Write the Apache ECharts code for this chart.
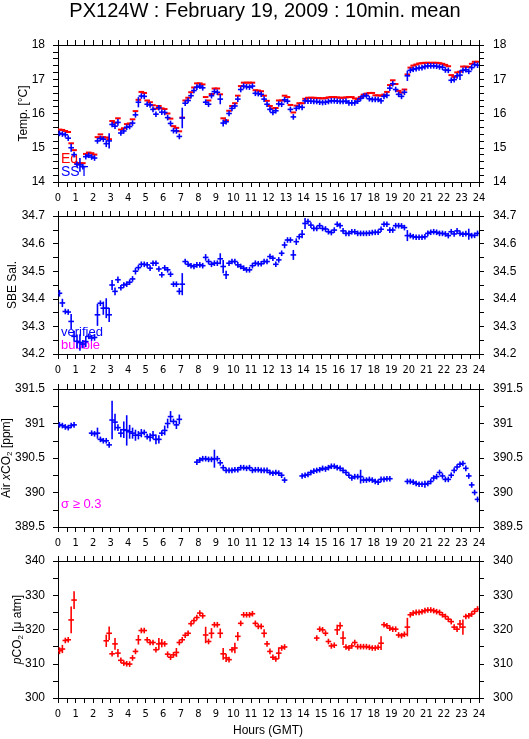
<!DOCTYPE html>
<html><head><meta charset="utf-8">
<script src="https://cdn.jsdelivr.net/npm/echarts@6/dist/echarts.min.js"></script>
<style>html,body{margin:0;padding:0;background:#fff}#c{width:529px;height:739px}</style>
</head><body><div id="c"></div>
<script>
// ---------- DATA (10-minute means, index i -> hour (i+0.5)/6) ----------
const titleText = 'PX124W : February 19, 2009 : 10min. mean';
const hourAxis = [0, 24, 1];          // min, max, interval
const tempAxis = [14, 18, 1];
const salAxis = [34.2, 34.7, 0.1];
const co2Axis = [389.5, 391.5, 0.5];
const pco2Axis = [300, 340, 10];

const sst = [
15.42,15.40,15.38,15.28,15.00,14.80,
14.52,14.50,14.45,14.74,14.78,14.73,
14.70,15.20,15.27,15.25,15.12,15.20,
15.68,15.63,15.74,15.43,15.49,15.60,
15.62,15.72,15.96,16.33,16.51,16.50,
16.27,16.25,16.12,15.98,16.17,16.04,
16.03,15.88,15.71,15.50,15.49,15.33,
15.87,16.30,16.38,16.52,16.67,16.77,
16.80,16.75,16.33,16.27,16.52,16.64,
16.62,16.42,15.72,15.76,16.00,16.15,
16.22,16.42,16.70,16.80,16.78,16.77,
16.80,16.59,16.58,16.56,16.42,16.27,
16.12,16.03,16.08,16.28,16.27,16.40,
16.36,16.12,15.90,16.15,16.20,16.18,
16.37,16.36,16.36,16.35,16.35,16.33,
16.32,16.33,16.35,16.37,16.37,16.36,
16.35,16.35,16.36,16.31,16.31,16.31,
16.36,16.44,16.51,16.52,16.43,16.41,
16.41,16.41,16.37,16.50,16.53,16.74,
16.87,16.70,16.56,16.50,16.62,17.10,
17.26,17.29,17.31,17.33,17.34,17.37,
17.39,17.39,17.39,17.38,17.36,17.35,
17.27,17.26,16.97,16.99,17.10,17.12,
17.26,17.28,17.23,17.34,17.43,17.41
];
const sstErr = [[3,0.05],[4,0.12],[6,0.08],[7,0.2],[8,0.06],[12,0.06],[13,0.06],[16,0.1],[17,0.22],[20,0.1],[27,0.15],[33,0.06],[39,0.06],[42,0.3],[44,0.06],[50,0.08],[55,0.15],[56,0.1],[57,0.06],[61,0.07],[79,0.07],[80,0.08],[114,0.06],[115,0.06],[119,0.15],[134,0.07],[135,0.06],[137,0.14]];

const eq = [
15.53,15.52,15.49,15.46,15.13,14.93,
14.55,14.55,14.55,14.82,14.86,14.84,
14.80,15.31,15.39,15.31,15.30,15.25,
15.78,15.73,15.86,15.53,15.57,15.69,
15.71,15.83,16.07,16.40,16.63,16.60,
16.38,16.33,16.24,16.14,16.22,16.15,
16.13,16.00,15.85,15.63,15.58,15.48,
15.88,16.38,16.46,16.62,16.76,16.88,
16.88,16.85,16.48,16.38,16.57,16.73,
16.73,16.56,15.86,15.80,16.08,16.22,
16.30,16.52,16.80,16.90,16.90,16.90,
16.90,16.68,16.67,16.65,16.52,16.37,
16.22,16.15,16.16,16.38,16.38,16.52,
16.48,16.25,16.03,16.23,16.30,16.30,
16.43,16.46,16.46,16.46,16.45,16.45,
16.44,16.45,16.47,16.48,16.48,16.47,
16.46,16.46,16.47,16.48,16.48,16.44,
16.42,16.48,16.55,16.58,16.60,16.60,
16.53,16.53,16.52,16.55,16.63,16.83,
16.97,16.86,16.66,16.61,16.70,17.14,
17.34,17.40,17.43,17.46,17.47,17.48,
17.48,17.48,17.48,17.48,17.47,17.45,
17.42,17.38,17.12,17.07,17.20,17.22,
17.37,17.37,17.36,17.45,17.51,17.51
];

const sal = [
34.420,34.385,34.354,34.352,34.318,34.264,
34.246,34.242,34.236,34.245,34.264,34.258,
34.260,34.342,34.384,34.366,34.366,34.342,
34.450,34.427,34.469,34.440,34.450,34.453,
34.460,34.472,34.500,34.513,34.525,34.525,
34.523,34.511,34.529,34.529,34.508,34.487,
34.512,34.505,34.489,34.453,34.453,34.427,
34.453,34.535,34.525,34.520,34.517,34.523,
34.523,34.520,34.550,34.535,34.525,34.529,
34.529,34.545,34.517,34.487,34.529,34.535,
34.535,34.523,34.517,34.511,34.505,34.505,
34.520,34.529,34.527,34.527,34.535,34.535,
34.553,34.547,34.525,34.541,34.565,34.595,
34.613,34.613,34.559,34.607,34.625,34.634,
34.673,34.680,34.667,34.655,34.655,34.665,
34.655,34.653,34.643,34.640,34.649,34.670,
34.665,34.646,34.637,34.637,34.643,34.643,
34.637,34.637,34.637,34.637,34.638,34.640,
34.641,34.641,34.652,34.670,34.670,34.649,
34.649,34.665,34.665,34.664,34.658,34.629,
34.629,34.625,34.623,34.623,34.623,34.625,
34.637,34.641,34.643,34.641,34.637,34.637,
34.635,34.629,34.643,34.635,34.646,34.637,
34.634,34.636,34.634,34.629,34.630,34.637
];
const salErr = [[0,0.012],[1,0.015],[4,0.027],[5,0.02],[6,0.025],[7,0.03],[8,0.015],[9,0.02],[12,0.012],[13,0.04],[15,0.024],[16,0.036],[17,0.026],[18,0.018],[19,0.014],[20,0.012],[26,0.012],[41,0.012],[42,0.04],[50,0.012],[55,0.02],[56,0.024],[57,0.015],[77,0.012],[80,0.018],[81,0.012],[83,0.015],[84,0.02],[119,0.02],[120,0.01],[140,0.02]];

const co2 = [
390.98,390.97,390.95,390.94,390.97,390.98,
null,null,null,null,null,390.86,
390.85,390.86,390.77,390.75,390.75,390.69,
391.05,391.02,390.94,390.86,390.91,390.90,
390.88,390.86,390.83,390.83,390.86,390.87,
390.81,390.80,390.83,390.77,390.77,390.86,
390.90,391.00,391.10,391.03,390.98,391.06,
null,null,null,null,null,390.44,
390.47,390.49,390.49,390.48,390.48,390.49,
390.49,390.43,390.36,390.32,390.32,390.32,
390.33,390.33,390.36,390.36,390.35,390.36,
390.32,390.33,390.33,390.32,390.32,390.32,
390.29,390.28,390.29,390.28,390.25,390.18,
null,null,null,null,null,390.24,
390.25,390.26,390.29,390.31,390.32,390.33,
390.35,390.34,390.36,390.38,390.38,390.36,
390.35,390.32,390.29,390.25,390.21,390.23,
390.23,390.23,390.18,390.18,390.19,390.18,
390.16,390.15,390.19,390.19,390.20,390.20,
null,null,null,null,null,390.16,
390.16,390.15,390.13,390.12,390.12,390.12,
390.13,390.16,390.21,390.23,390.29,390.24,
390.19,390.19,390.25,390.32,390.37,390.41,
390.42,390.35,390.24,390.11,390.00,389.90
];
const co2Err = [[13,0.08],[14,0.04],[18,0.28],[19,0.12],[20,0.05],[21,0.06],[22,0.12],[23,0.22],[24,0.1],[25,0.08],[26,0.08],[27,0.06],[28,0.06],[31,0.06],[32,0.06],[33,0.07],[34,0.06],[36,0.07],[37,0.07],[38,0.08],[40,0.06],[41,0.07],[53,0.13],[103,0.1],[121,0.04],[125,0.05]];

const pco2 = [
313.8,314.3,316.8,317.0,322.8,328.6,
null,null,null,null,null,null,
null,null,null,null,316.7,318.9,
312.9,315.8,313.1,311.0,310.2,310.0,
309.9,311.7,313.6,317.0,319.7,319.7,
317.0,316.2,316.2,314.1,315.8,316.0,
315.8,312.8,311.9,312.6,313.3,316.2,
317.0,318.3,318.9,321.7,322.6,323.5,
324.8,324.0,318.4,316.5,318.9,321.4,
321.4,318.9,312.9,311.7,311.2,314.1,
314.6,318.0,321.8,324.3,324.3,324.3,
324.6,321.8,320.9,320.9,318.9,315.8,
313.6,311.9,311.4,313.1,314.6,314.9,
null,null,null,null,null,null,
null,null,null,null,317.5,320.1,
319.9,318.9,316.5,315.2,315.4,319.9,
321.1,317.5,314.9,314.6,315.2,316.2,
315.0,315.0,315.0,315.0,314.8,314.6,
314.6,314.8,316.0,321.4,321.1,320.4,
320.1,320.1,318.4,318.2,318.6,320.7,
324.3,324.8,325.0,325.0,325.2,325.5,
325.7,325.7,325.5,325.2,325.0,324.3,
323.8,323.0,322.3,320.7,320.1,321.6,
320.7,323.8,324.0,324.5,325.3,326.0
];
const pco2Err = [[0,1.0],[1,1.2],[4,3.9],[5,2.6],[16,1.8],[17,2.0],[19,1.7],[20,1.2],[27,1.4],[34,1.7],[35,1.2],[40,1.3],[50,2.4],[52,1.5],[55,1.4],[56,1.7],[57,1.2],[60,1.5],[61,1.3],[70,1.2],[75,1.7],[95,1.5],[96,1.0],[97,2.0],[110,2.0],[119,2.7],[137,1.2],[138,2.2]];

// ---------- CHART ----------
const FONT = "'Liberation Sans', Arial, Helvetica, sans-serif";
const NARROW = "'Liberation Sans Narrow', 'DejaVu Sans Condensed', 'Liberation Sans', sans-serif";
const BLUE = '#0000ff', RED = '#ff0000', MAG = '#ff00ff';

function build(vals, errs) {
  const m = new Map(errs || []);
  const out = [];
  vals.forEach((v, i) => { if (v != null) out.push([(i + 0.5) / 6, v, m.get(i) || 0]); });
  return out;
}
function plus(color, hw, lw, vertical) {
  return function (params, api) {
    const t = api.value(0), v = api.value(1), e = api.value(2);
    const p = api.coord([t, v]);
    const ch = [{ type: 'line', shape: { x1: p[0] - hw, y1: p[1], x2: p[0] + hw, y2: p[1] }, style: { stroke: color, lineWidth: lw } }];
    if (vertical) {
      const a = api.coord([t, v + e]), b = api.coord([t, v - e]);
      const up = Math.max(hw, p[1] - a[1]), dn = Math.max(hw, b[1] - p[1]);
      ch.push({ type: 'line', shape: { x1: p[0], y1: p[1] - up, x2: p[0], y2: p[1] + dn }, style: { stroke: color, lineWidth: lw } });
    }
    return { type: 'group', children: ch };
  };
}

const grids = [
  { left: 58, width: 421, top: 45, height: 137 },
  { left: 58, width: 421, top: 216, height: 138 },
  { left: 58, width: 421, top: 389, height: 138 },
  { left: 58, width: 421, top: 561, height: 137 }
].map(g => Object.assign(g, { containLabel: false, outerBoundsMode: 'none' }));
const yDefs = [
  { r: tempAxis, minor: 5, name: 'Temp. [°C]', gap: 28 },
  { r: salAxis, minor: 2, name: 'SBE Sal.', gap: 39 },
  { r: co2Axis, minor: 2, name: '{n|Air }{i|x}{n|CO}{s|2}{n| [ppm]}', gap: 44 },
  { r: pco2Axis, minor: 2, name: '{i|p}{n|CO}{s|2}{n| [μ atm]}', gap: 33 }
];
const lineSt = { color: '#000', width: 1 };
const xAxes = [], yAxes = [];
grids.forEach((g, k) => {
  const base = { type: 'value', gridIndex: k, min: hourAxis[0], max: hourAxis[1], interval: hourAxis[2],
    axisLine: { show: true, onZero: false, lineStyle: lineSt },
    axisTick: { show: true, length: 5, lineStyle: lineSt },
    minorTick: { show: true, splitNumber: 2, length: 5, lineStyle: lineSt },
    splitLine: { show: false } };
  xAxes.push(Object.assign({}, base, { position: 'bottom', axisLabel: { show: true, fontSize: 11, color: '#000', margin: 11, fontFamily: NARROW } }));
  xAxes.push(Object.assign({}, base, { position: 'top', axisLabel: { show: false } }));
  const d = yDefs[k];
  const yb = { type: 'value', gridIndex: k, min: d.r[0], max: d.r[1], interval: d.r[2],
    axisLine: { show: true, onZero: false, lineStyle: lineSt },
    axisTick: { show: true, length: 5, lineStyle: lineSt },
    minorTick: { show: true, splitNumber: d.minor, length: 5, lineStyle: lineSt },
    splitLine: { show: false } };
  yAxes.push(Object.assign({}, yb, { position: 'left', axisLabel: { fontSize: 12, color: '#000', margin: 13, fontFamily: FONT },
    name: d.name, nameLocation: 'middle', nameGap: d.gap, nameRotate: 90, nameMoveOverlap: false,
    nameTextStyle: { fontSize: 12, color: '#000', fontFamily: FONT,
      rich: { n: { fontSize: 12, fontFamily: FONT, color: '#000' }, i: { fontSize: 12, fontStyle: 'italic', fontFamily: FONT, color: '#000' }, s: { fontSize: 8, fontFamily: FONT, color: '#000', padding: [6, 0, 0, 0] } } } }));
  yAxes.push(Object.assign({}, yb, { position: 'right', axisLabel: { fontSize: 12, color: '#000', margin: 14, fontFamily: FONT } }));
});

function ser(k, data, color, lw, vertical) {
  return { type: 'custom', xAxisIndex: 2 * k, yAxisIndex: 2 * k, data: data, clip: true,
    renderItem: plus(color, 2.8, lw, vertical), encode: { x: 0, y: 1 }, animation: false, silent: true };
}

const txt = (t, x, y, color, size, align) => ({ type: 'text', x: x, y: y, silent: true,
  style: { text: t, fill: color, font: size + 'px ' + FONT, align: align || 'left', verticalAlign: 'middle' } });

const chart = echarts.init(document.getElementById('c'), null, { renderer: 'canvas' });
chart.setOption({
  animation: false,
  backgroundColor: '#fff',
  grid: grids,
  xAxis: xAxes,
  yAxis: yAxes,
  series: [
    ser(0, build(eq), RED, 2, false),
    ser(0, build(sst, sstErr), BLUE, 1.6, true),
    ser(1, build(sal, salErr), BLUE, 1.6, true),
    ser(2, build(co2, co2Err), BLUE, 1.6, true),
    ser(3, build(pco2, pco2Err), RED, 1.6, true)
  ],
  graphic: [
    txt(titleText, 265, 11, '#000', 20, 'center'),
    txt('Eq', 61, 159, RED, 14),
    txt('SST', 61, 172, BLUE, 14),
    txt('verified', 61, 332, BLUE, 13),
    txt('bubble', 61, 345, MAG, 13),
    txt('σ ≥ 0.3', 61, 504, MAG, 13),
    txt('Hours (GMT)', 268, 731, '#000', 12, 'center')
  ]
});
</script></body></html>
